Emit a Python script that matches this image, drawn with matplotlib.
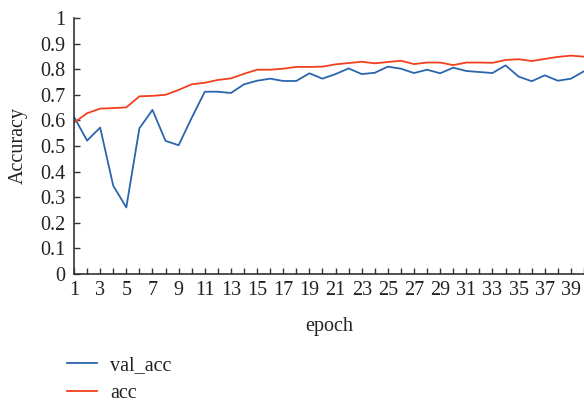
import matplotlib
matplotlib.use("Agg")
import matplotlib.pyplot as plt
import numpy as np

plt.rcParams['font.family'] = ['Liberation Serif', 'DejaVu Serif']

# datos
epochs = list(range(1, 41))
val_acc = [0.614, 0.521, 0.572, 0.345, 0.260, 0.569, 0.641, 0.520, 0.503, 0.610,
           0.712, 0.712, 0.707, 0.741, 0.755, 0.763, 0.754, 0.754, 0.784, 0.763,
           0.781, 0.803, 0.781, 0.786, 0.810, 0.802, 0.785, 0.798, 0.784, 0.806,
           0.793, 0.789, 0.785, 0.815, 0.771, 0.753, 0.776, 0.755, 0.763, 0.792]
acc = [0.591, 0.628, 0.646, 0.648, 0.651, 0.694, 0.696, 0.700, 0.719, 0.741,
       0.747, 0.758, 0.764, 0.782, 0.798, 0.798, 0.802, 0.809, 0.809, 0.810,
       0.819, 0.824, 0.829, 0.823, 0.828, 0.833, 0.820, 0.826, 0.826, 0.816,
       0.826, 0.826, 0.825, 0.836, 0.839, 0.832, 0.840, 0.848, 0.853, 0.849]
yticks = [0, 0.1, 0.2, 0.3, 0.4, 0.5, 0.6, 0.7, 0.8, 0.9, 1]

fs = 14.5

fig = plt.figure(figsize=(5.84, 4.04), dpi=100)
ax = fig.add_axes([74/584, 1 - 274/404, 1 - 74/584, 256/404])

ax.plot(epochs, val_acc, color='#2a66ad', lw=1.3, label='val_acc')
ax.plot(epochs, acc, color='#f2401f', lw=1.3, label='acc')

ax.set_xlim(1, 40)
ax.set_ylim(0, 1)
ax.set_yticks(yticks)
ax.set_yticklabels(['{:g}'.format(v) for v in yticks])
ax.set_xticks(epochs)
ax.set_xticklabels([str(e) if e % 2 == 1 else '' for e in epochs])

for s in ['top', 'right']:
    ax.spines[s].set_visible(False)
for s in ['left', 'bottom']:
    ax.spines[s].set_color('#333333')
    ax.spines[s].set_linewidth(1.2)
ax.tick_params(direction='in', length=4, width=1, color='#333333',
               labelsize=fs, labelcolor='#222222')
ax.tick_params(axis='x', pad=5)
ax.tick_params(axis='y', pad=6)

ax.set_ylabel('Accuracy', fontsize=fs, color='#222222', labelpad=9)
ax.set_xlabel('epoch', fontsize=fs, color='#222222', labelpad=12)

fig.legend(loc='upper left', bbox_to_anchor=(67/584, 1 - 356/404), frameon=False,
           fontsize=fs, handlelength=1.5, handletextpad=0.65, labelspacing=0.45,
           borderpad=0, borderaxespad=0, labelcolor='#222222')

plt.savefig('out.png', dpi=100)
